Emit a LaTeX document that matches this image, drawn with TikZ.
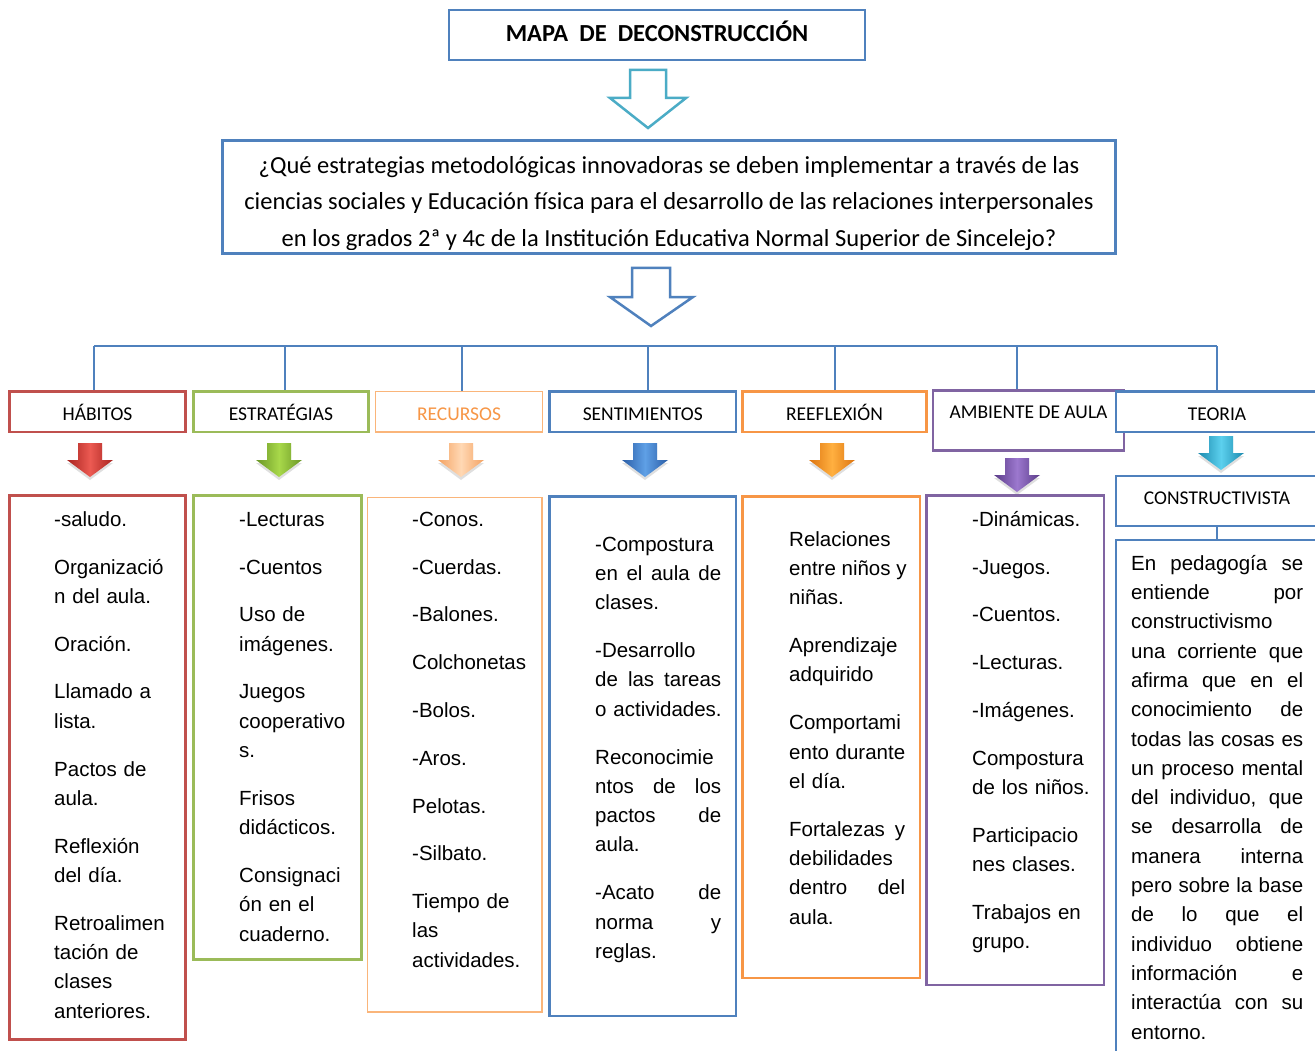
\documentclass[tikz,border=0pt]{standalone}
\usepackage{fontspec}
\setmainfont{Liberation Sans}
\newfontfamily\calfont{Carlito}
\usetikzlibrary{shadows,fit}
\definecolor{cblue}{HTML}{4F81BD}
\definecolor{cred}{HTML}{C0504D}
\definecolor{cgreen}{HTML}{9BBB59}
\definecolor{cpeach}{HTML}{FAB57A}
\definecolor{corange}{HTML}{F79646}
\definecolor{cpurple}{HTML}{8064A2}
\definecolor{ccyan}{HTML}{4BACC6}
\definecolor{reddark}{HTML}{A8231F}\definecolor{redlight}{HTML}{EC5A52}
\definecolor{greendark}{HTML}{6A9626}\definecolor{greenlight}{HTML}{A8D84A}
\definecolor{peachdark}{HTML}{F4A262}\definecolor{peachlight}{HTML}{FFD8B4}
\definecolor{bluedark}{HTML}{2A5DA6}\definecolor{bluelight}{HTML}{5FA0E6}
\definecolor{orangedark}{HTML}{DD7410}\definecolor{orangelight}{HTML}{FFB040}
\definecolor{purpledark}{HTML}{5A3B88}\definecolor{purplelight}{HTML}{9C78CE}
\definecolor{cyandark}{HTML}{1C8AAE}\definecolor{cyanlight}{HTML}{5CD0EE}
\newcommand\jl[2]{\makebox[#1][s]{\spaceskip=0.278em plus 1fil\relax #2}}
\newcommand\threedarrow[3]{%
  \begin{scope}[shift={(#1,#2)}]
    \path[drop shadow={shadow xshift=0pt,shadow yshift=-3pt,opacity=0.25},
      left color=#3dark, right color=#3dark, middle color=#3light]
      (-12,0) -- (12,0) -- (12,17) -- (23,17) -- (0,34) -- (-23,17) -- (-12,17) -- cycle;
  \end{scope}}
\tikzset{
  hdr/.style={draw, line width=2.6pt, fill=white, inner sep=0pt, minimum height=40.5pt,
    font=\calfont\fontsize{19.5}{22}\selectfont, text height=18pt, text depth=1.5pt},
  colbox/.style={draw, line width=2.6pt, inner sep=0pt},
  coltext/.style={inner sep=0pt, anchor=north west, text width=220pt, align=left,
    font=\fontsize{20.5}{29.3}\selectfont},
  conn/.style={draw=cblue, line width=1.1pt},
}
\begin{document}
\begin{tikzpicture}[x=1pt,y=-1pt]
\useasboundingbox (0,0) rectangle (1315,1051);
\clip (0,0) rectangle (1315,1051);
\fill[white] (0,0) rectangle (1315,1051);

% title
\node[draw=cblue, line width=2.5pt, inner sep=0pt, minimum width=416pt, minimum height=50pt,
  font=\calfont\bfseries\fontsize{24.5}{28}\selectfont, text height=15.5pt, text depth=2.2pt]
  (title) at (657,35) {MAPA\ \ DE\ \ DECONSTRUCCIÓN};

% hollow arrow 1
\draw[ccyan, line width=2.5pt, line join=miter]
  (630,70) -- (666,70) -- (666,98) -- (686,98) -- (648,128) -- (610,98) -- (630,98) -- cycle;

% question
\begin{scope}
  \clip (222,141) rectangle (1115,250);
  \node[anchor=north, inner sep=0pt, align=center, font=\calfont\fontsize{24.5}{36.5}\selectfont]
    (qt) at (669,147.5) {\strut ¿Qué estrategias metodológicas innovadoras se deben implementar a través de las\\
    ciencias sociales y Educación física para el desarrollo de las relaciones interpersonales\\
    en los grados 2ª y 4c de la Institución Educativa Normal Superior de Sincelejo?};
\end{scope}
\node[draw=cblue, line width=3pt, inner sep=0pt, minimum width=893pt, minimum height=113pt]
  (q) at (668.5,197.5) {};

% hollow arrow 2
\draw[cblue, line width=2.5pt, line join=miter]
  (632,268) -- (670,268) -- (670,297) -- (693,297) -- (651,326) -- (610,297) -- (632,297) -- cycle;

% headers
\node[hdr, draw=cred, minimum width=176pt] (hab) at (97.5,411.75) {HÁBITOS};
\node[hdr, draw=cgreen, minimum width=175pt] (est) at (281,411.75) {ESTRATÉGIAS};
\node[hdr, draw=cpeach, line width=1.5pt, text=corange, minimum width=167pt] (rec) at (459,411.75) {RECURSOS};
\node[hdr, draw=cblue, minimum width=186.5pt] (sen) at (642.75,411.75) {SENTIMIENTOS};
\node[hdr, draw=corange, minimum width=184pt] (ref) at (834.5,411.75) {REEFLEXIÓN};
\node[colbox, draw=cpurple, fill=white, minimum width=191pt, minimum height=60pt] (amb) at (1028.5,420.5) {};
\node[inner sep=0pt, font=\calfont\fontsize{19.5}{22}\selectfont, text height=18pt, text depth=1.5pt]
  (ambt) at (1028.5,410.5) {AMBIENTE DE AULA};
\node[hdr, draw=cblue, minimum width=202pt] (teo) at (1217,411.75) {TEORIA};

% connectors
\coordinate (b1) at (94,346);
\coordinate (b2) at (285,346);
\coordinate (b3) at (462,346);
\coordinate (b4) at (648,346);
\coordinate (b5) at (835,346);
\coordinate (b6) at (1017,346);
\coordinate (b7) at (1217,346);
\draw[conn, line width=2pt] (b1) -- (b7);
\draw[conn] (b1) -- (b1 |- hab.north);
\draw[conn] (b2) -- (b2 |- est.north);
\draw[conn] (b3) -- (b3 |- rec.north);
\draw[conn] (b4) -- (b4 |- sen.north);
\draw[conn] (b5) -- (b5 |- ref.north);
\draw[conn] (b6) -- (b6 |- amb.north);
\draw[conn] (b7) -- (b7 |- teo.north);

% 3D arrows
\threedarrow{90}{443}{red}
\threedarrow{279}{443}{green}
\threedarrow{461}{443}{peach}
\threedarrow{645}{443}{blue}
\threedarrow{832}{443}{orange}
\threedarrow{1017}{458}{purple}
\threedarrow{1221}{436}{cyan}

% constructivista
\node[hdr, draw=cblue, minimum width=202pt, minimum height=50pt, text height=13pt, text depth=7pt]
  (cons) at (1217,501) {CONSTRUCTIVISTA};

% content boxes
\node[colbox, draw=cred, fit={(9.5,495.5) (185.5,1039.5)}] (habbox) {};
\node[colbox, draw=cgreen, fit={(193.5,495.5) (361.5,959.5)}] (estbox) {};
\node[colbox, draw=cpeach, line width=1.5pt, fit={(367.5,497.5) (542,1012)}] (recbox) {};
\node[colbox, draw=cblue, fit={(549.5,496.5) (736,1016)}] (senbox) {};
\node[colbox, draw=corange, fit={(742.5,496.5) (920,978)}] (refbox) {};
\node[colbox, draw=cpurple, fit={(926.5,495.5) (1104,985)}] (ambbox) {};
\node[colbox, draw=cblue, fit={(1116,540) (1318,1066)}] (teobox) {};
\draw[conn] (cons.south) -- (teobox.north);

% column texts
\node[coltext] (habtxt) at (54,505.5) {\strut -saludo.\\[18.5pt]
Organizació\\ n del aula.\\[18.5pt]
Oración.\\[18.5pt]
Llamado a\\ lista.\\[18.5pt]
Pactos de\\ aula.\\[18.5pt]
Reflexión\\ del día.\\[18.5pt]
Retroalimen\\ tación de\\ clases\\ anteriores.};

\node[coltext] (esttxt) at (239,505.5) {\strut -Lecturas\\[18.5pt]
-Cuentos\\[18.5pt]
Uso de\\ imágenes.\\[18.5pt]
Juegos\\ cooperativo\\ s.\\[18.5pt]
Frisos\\ didácticos.\\[18.5pt]
Consignaci\\ ón en el\\ cuaderno.};

\node[coltext] (rectxt) at (412,505.5) {\strut -Conos.\\[18.5pt]
-Cuerdas.\\[18.5pt]
-Balones.\\[18.5pt]
Colchonetas\\[18.5pt]
-Bolos.\\[18.5pt]
-Aros.\\[18.5pt]
Pelotas.\\[18.5pt]
-Silbato.\\[18.5pt]
Tiempo de\\ las\\ actividades.};

\node[coltext] (sentxt) at (595,530.5) {\strut -Compostura\\ \jl{126pt}{en el aula de}\\ clases.\\[18.5pt]
-Desarrollo\\ \jl{126pt}{de las tareas}\\ o actividades.\\[18.5pt]
Reconocimie\\ \jl{126pt}{ntos de los}\\ \jl{126pt}{pactos de}\\ aula.\\[18.5pt]
\jl{126pt}{-Acato de}\\ \jl{126pt}{norma y}\\ reglas.};

\node[coltext] (reftxt) at (789,525.5) {\strut Relaciones\\ \jl{116pt}{entre niños y}\\ niñas.\\[18.5pt]
Aprendizaje\\ adquirido\\[18.5pt]
Comportami\\ \jl{116pt}{ento durante}\\ el día.\\[18.5pt]
\jl{116pt}{Fortalezas y}\\ debilidades\\ \jl{116pt}{dentro del}\\ aula.};

\node[coltext] (ambtxt) at (972,505.5) {\strut -Dinámicas.\\[18.5pt]
-Juegos.\\[18.5pt]
-Cuentos.\\[18.5pt]
-Lecturas.\\[18.5pt]
-Imágenes.\\[18.5pt]
Compostura\\ de los niños.\\[18.5pt]
Participacio\\ nes clases.\\[18.5pt]
Trabajos en\\ grupo.};

\node[coltext] (teotxt) at (1131,549.5) {\strut \jl{172pt}{En pedagogía se}\\
\jl{172pt}{entiende por}\\
constructivismo\\
\jl{172pt}{una corriente que}\\
\jl{172pt}{afirma que en el}\\
\jl{172pt}{conocimiento de}\\
\jl{172pt}{todas las cosas es}\\
\jl{172pt}{un proceso mental}\\
\jl{172pt}{del individuo, que}\\
\jl{172pt}{se desarrolla de}\\
\jl{172pt}{manera interna}\\
\jl{172pt}{pero sobre la base}\\
\jl{172pt}{de lo que el}\\
\jl{172pt}{individuo obtiene}\\
\jl{172pt}{información e}\\
\jl{172pt}{interactúa con su}\\
entorno.};
\end{tikzpicture}
\end{document}
